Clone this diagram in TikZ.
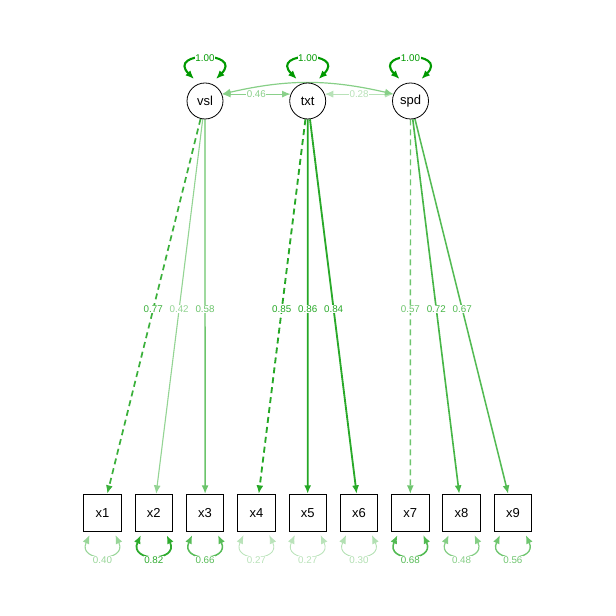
\documentclass[tikz,border=0pt]{standalone}
\usepackage{fontspec}
\setmainfont{Liberation Sans}
\usetikzlibrary{
  positioning,
  arrows.meta,
  backgrounds}
\definecolor{semgreen}{RGB}{0,153,0}

\begin{document}
\begin{tikzpicture}[
  x=1pt,y=1pt,
  >={Latex[length=8.5pt,width=7pt]},
  lat/.style={circle,draw,fill=white,line width=0.8pt,minimum size=36pt,inner sep=0pt,font=\fontsize{13}{15}\selectfont},
  man/.style={rectangle,draw,fill=white,line width=0.8pt,minimum size=37.5pt,inner sep=0pt,font=\fontsize{13}{15}\selectfont},
  wt/.style={draw=semgreen!#1,line width={0.4pt+0.017pt*#1}},
  dsh/.style={dash pattern=on 6pt off 4pt},
  lbl/.style={fill=white,inner sep=0.6pt,font=\fontsize{9.8}{11}\selectfont,text=semgreen!#1},
  ldg/.style={lbl=#1,pos=0.507}
]%
  \useasboundingbox (0,0) rectangle (616,616);

  % latent factors
  \node[lat] (vsl) at (205,515) {vsl};
  \node[lat] (txt) at (307.7,515) {txt};
  \node[lat] (spd) at (410.5,515) {spd};

  % indicators
  \foreach \i in {1,...,9}
    \node[man] (x\i) at ({102.5+51.3*(\i-1)},103) {x\i};

  \begin{pgfonlayer}{background}
    % loadings
    \draw[->,wt=77,dsh] (vsl) -- node[ldg=77] {0.77} (x1);
    \draw[->,wt=42] (vsl) -- node[ldg=42] {0.42} (x2);
    \draw[->,wt=58] (vsl) -- node[ldg=58] {0.58} (x3);
    \draw[->,wt=85,dsh] (txt) -- node[ldg=85] {0.85} (x4);
    \draw[->,wt=86] (txt) -- node[ldg=86] {0.86} (x5);
    \draw[->,wt=84] (txt) -- node[ldg=84] {0.84} (x6);
    \draw[->,wt=57,dsh] (spd) -- node[ldg=57] {0.57} (x7);
    \draw[->,wt=72] (spd) -- node[ldg=72] {0.72} (x8);
    \draw[->,wt=67] (spd) -- node[ldg=67] {0.67} (x9);

    % covariances
    \draw[<->,wt=46] (vsl.22) -- node[lbl=46] {0.46} (txt.158);
    \draw[<->,wt=28] (txt.22) -- node[lbl=28] {0.28} (spd.158);
    \draw[<->,wt=47] (vsl.22) to[bend left=13] (spd.158);

    % latent variances
    \foreach \f in {vsl,txt,spd}
      \draw[<->,wt=100] ([shift={(-11,22)}]\f.center) .. controls +(135:39.6) and +(45:39.6) .. node[lbl=100] {1.00} ([shift={(11,22)}]\f.center);

    % residual variances
    \foreach \i/\v in {1/40,2/82,3/66,4/27,5/27,6/30,7/68,8/48,9/56}
      \draw[<->,wt=\v] ([yshift=-3pt]x\i.236) .. controls +(245:30) and +(295:30) .. node[lbl=\v,yshift=-5pt] {0.\v} ([yshift=-3pt]x\i.304);
  \end{pgfonlayer}
\end{tikzpicture}
\end{document}
